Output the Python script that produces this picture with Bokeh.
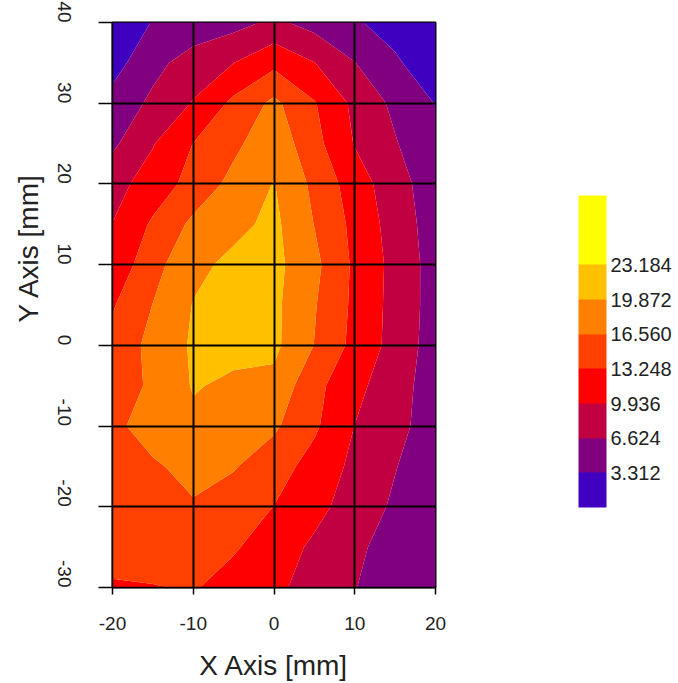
import math
import numpy as np
from bokeh.plotting import figure
from bokeh.models import (Range1d, FixedTicker, ColorBar, LinearColorMapper,
                          PrintfTickFormatter, Title)
from bokeh.embed import file_html
from bokeh.resources import INLINE

# ---- data ----
x_mm = [-20, -15, -10, -5, 0, 5, 10, 15, 20]
y_mm = [-30, -25, -20, -15, -10, -5, 0, 5, 10, 15, 20, 25, 30, 35, 40]

row_m30 = [12.90, 13.10, 13.50, 11.97, 10.56, 8.79, 6.75, 4.60, 3.50]
row_m25 = [14.50, 14.80, 14.60, 13.60, 11.53, 9.38, 7.26, 5.30, 3.80]
row_m20 = [14.50, 15.30, 16.30, 15.00, 13.20, 10.88, 8.52, 6.10, 4.00]
row_m15 = [15.30, 16.20, 17.40, 16.80, 14.69, 12.02, 9.17, 6.77, 4.40]
row_m10 = [15.90, 17.80, 19.20, 18.50, 17.09, 13.78, 9.89, 7.52, 5.16]
row_m05 = [14.23, 17.30, 20.10, 19.30, 19.00, 14.20, 10.90, 7.89, 5.13]
row_p00 = [14.37, 17.50, 20.30, 20.80, 20.60, 16.49, 12.28, 8.76, 5.08]
row_p05 = [12.95, 16.63, 20.00, 21.00, 20.60, 16.81, 12.55, 8.81, 5.28]
row_p10 = [10.92, 15.40, 19.10, 20.60, 20.80, 17.40, 12.65, 8.91, 5.23]
row_p15 = [10.00, 13.72, 17.27, 19.05, 20.60, 16.48, 12.34, 8.49, 5.04]
row_p20 = [8.76, 11.43, 14.40, 17.53, 20.00, 15.80, 11.59, 7.99, 4.74]
row_p25 = [6.00, 9.73, 13.30, 15.81, 18.80, 14.30, 9.76, 6.86, 3.95]
row_p30 = [4.49, 7.30, 10.16, 14.00, 17.30, 13.48, 9.16, 5.88, 3.20]
row_p35 = [1.99, 5.67, 8.03, 9.90, 12.40, 10.00, 6.70, 3.83, 0.97]
row_p40 = [2.17, 3.39, 4.60, 5.50, 7.30, 5.44, 3.70, 1.95, 0.80]

levels = [0.0, 3.312, 6.624, 9.936, 13.248, 16.560, 19.872, 23.184, 26.496]
band_colors = ["#4000C0", "#800080", "#C00040", "#FF0000",
               "#FF4000", "#FF8000", "#FFC000", "#FFFF00"]
x_ticks = [-20, -10, 0, 10, 20]
x_tick_labels = ["-20", "-10", "0", "10", "20"]
y_ticks = [-30, -20, -10, 0, 10, 20, 30, 40]
y_tick_labels = ["-30", "-20", "-10", "0", "10", "20", "30", "40"]

Z = np.array([row_m30, row_m25, row_m20, row_m15, row_m10, row_m05, row_p00,
              row_p05, row_p10, row_p15, row_p20, row_p25, row_p30, row_p35, row_p40])

FONT = "Liberation Sans"
TXT = "#222222"

p = figure(width=678, height=683, output_backend="svg", toolbar_location=None,
           x_range=Range1d(x_mm[0], x_mm[-1]), y_range=Range1d(y_mm[0], y_mm[-1]),
           min_border_left=112, min_border_right=243, min_border_top=22,
           min_border_bottom=93)

p.contour(x=np.array(x_mm, dtype=float), y=np.array(y_mm, dtype=float), z=Z,
          levels=levels, fill_color=band_colors, line_color=None)

p.background_fill_color = "white"
p.border_fill_color = "white"
p.outline_line_color = "black"
p.outline_line_width = 2

p.xaxis.ticker = FixedTicker(ticks=x_ticks)
p.yaxis.ticker = FixedTicker(ticks=y_ticks)
p.xaxis.major_label_overrides = dict(zip(x_ticks, x_tick_labels))
p.yaxis.major_label_overrides = dict(zip(y_ticks, y_tick_labels))
p.xgrid.ticker = FixedTicker(ticks=x_ticks)
p.ygrid.ticker = FixedTicker(ticks=y_ticks)
for g in p.grid:
    g.grid_line_color = "black"
    g.grid_line_width = 2
    g.level = "overlay"

for ax in p.axis:
    ax.axis_line_color = "black"
    ax.axis_line_width = 1.5
    ax.major_tick_line_color = "black"
    ax.major_tick_line_width = 1.5
    ax.major_tick_in = 0
    ax.minor_tick_line_color = None
    ax.major_label_text_font = FONT
    ax.major_label_text_font_size = "19px"
    ax.major_label_text_color = TXT
    ax.axis_label_text_font = FONT
    ax.axis_label_text_font_size = "28px"
    ax.axis_label_text_font_style = "normal"
    ax.axis_label_text_color = TXT

p.xaxis.major_tick_out = 7
p.xaxis.major_label_standoff = 22
p.xaxis.axis_label = "X Axis [mm]"
p.xaxis.axis_label_standoff = 17

p.yaxis.major_tick_out = 14
p.yaxis.major_label_orientation = -math.pi / 2
p.yaxis.major_label_standoff = 34

ytitle = Title(text="Y Axis [mm]", align="left", offset=265, standoff=10,
               text_font=FONT, text_font_size="28px", text_font_style="normal",
               text_color=TXT)
p.add_layout(ytitle, "left")

mapper = LinearColorMapper(palette=band_colors + [band_colors[-1]],
                           low=levels[0], high=levels[-1] + levels[1])
cb = ColorBar(color_mapper=mapper, ticker=FixedTicker(ticks=levels[1:8]),
              formatter=PrintfTickFormatter(format="%.3f"),
              width=28, height=312, location=(143, 80), padding=0, margin=0,
              label_standoff=4, major_tick_line_color=None, bar_line_color=None,
              border_line_color=None, background_fill_alpha=0,
              major_label_text_font=FONT, major_label_text_font_size="20px",
              major_label_text_color=TXT)
p.add_layout(cb, "right")

open("out.html", "w").write(file_html(p, INLINE))
